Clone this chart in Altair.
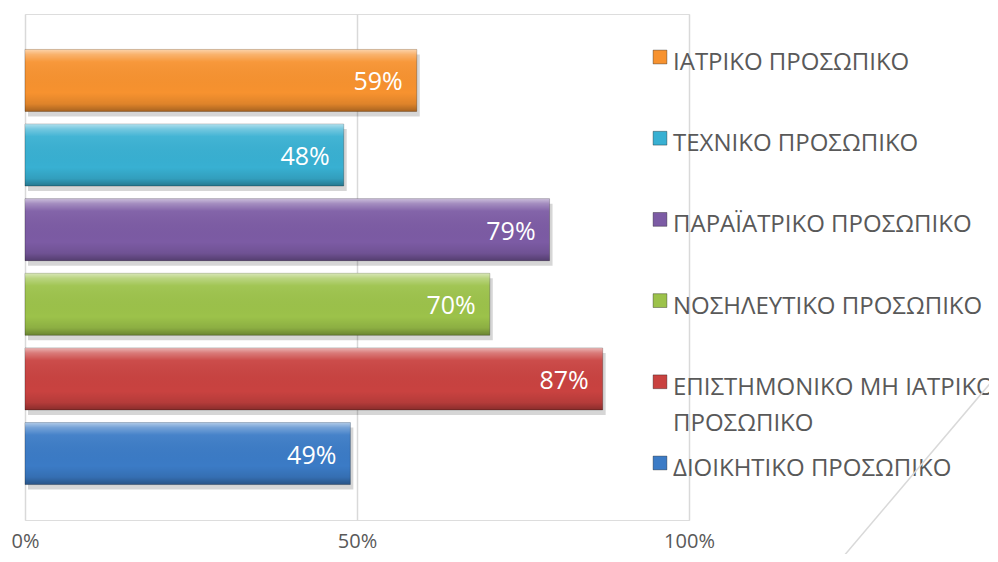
import altair as alt
import pandas as pd

categories = [
    "ΙΑΤΡΙΚΟ ΠΡΟΣΩΠΙΚΟ",
    "ΤΕΧΝΙΚΟ ΠΡΟΣΩΠΙΚΟ",
    "ΠΑΡΑΪΑΤΡΙΚΟ ΠΡΟΣΩΠΙΚΟ",
    "ΝΟΣΗΛΕΥΤΙΚΟ ΠΡΟΣΩΠΙΚΟ",
    "ΕΠΙΣΤΗΜΟΝΙΚΟ ΜΗ ΙΑΤΡΙΚΟ ΠΡΟΣΩΠΙΚΟ",
    "ΔΙΟΙΚΗΤΙΚΟ ΠΡΟΣΩΠΙΚΟ",
]
legend_labels = [
    "ΙΑΤΡΙΚΟ ΠΡΟΣΩΠΙΚΟ",
    "ΤΕΧΝΙΚΟ ΠΡΟΣΩΠΙΚΟ",
    "ΠΑΡΑΪΑΤΡΙΚΟ ΠΡΟΣΩΠΙΚΟ",
    "ΝΟΣΗΛΕΥΤΙΚΟ ΠΡΟΣΩΠΙΚΟ",
    "ΕΠΙΣΤΗΜΟΝΙΚΟ ΜΗ ΙΑΤΡΙΚΟ\nΠΡΟΣΩΠΙΚΟ",
    "ΔΙΟΙΚΗΤΙΚΟ ΠΡΟΣΩΠΙΚΟ",
]
values = [59, 48, 79, 70, 87, 49]
colors = ["#F7922F", "#38B0D2", "#7C5BA4", "#9CC24A", "#C94240", "#3B7BC6"]
x_ticks = [0, 50, 100]

FONT = "Open Sans"
GRAY = "#595959"

df = pd.DataFrame({"cat": categories, "value": values,
                   "label": [f"{v}%" for v in values]})
df_leg = pd.DataFrame({"cat": categories, "text": legend_labels})

color_scale = alt.Scale(domain=categories, range=colors)
y_bar = alt.Y("cat:N", sort=categories, axis=None,
              scale=alt.Scale(paddingInner=0.17, paddingOuter=0.475))
x_enc = alt.X(
    "value:Q",
    scale=alt.Scale(domain=[0, 100], nice=False, zero=True),
    axis=alt.Axis(values=x_ticks, labelExpr="datum.value + '%'", title=None,
                  grid=True, gridColor="#D9D9D9", gridWidth=1.5,
                  domain=False, ticks=False, tickSize=0, labelPadding=11,
                  labelFlush=False, labelOverlap=False,
                  labelFont=FONT, labelFontSize=20, labelColor=GRAY),
)

base = alt.Chart(df)

shadow = base.mark_bar(color="#000000", opacity=0.16, xOffset=3, yOffset=5).encode(
    x=x_enc, y=y_bar)

bars = base.mark_bar(stroke="#00000040", strokeWidth=1).encode(
    x=x_enc, y=y_bar,
    color=alt.Color("cat:N", scale=color_scale, legend=None))

gloss = base.mark_bar(
    fill=alt.Gradient(
        gradient="linear", x1=0, y1=0, x2=0, y2=1,
        stops=[
            alt.GradientStop(offset=0, color="rgba(255,255,255,0.6)"),
            alt.GradientStop(offset=0.08, color="rgba(255,255,255,0.3)"),
            alt.GradientStop(offset=0.2, color="rgba(255,255,255,0.06)"),
            alt.GradientStop(offset=0.7, color="rgba(0,0,0,0.0)"),
            alt.GradientStop(offset=0.88, color="rgba(0,0,0,0.1)"),
            alt.GradientStop(offset=1, color="rgba(0,0,0,0.32)"),
        ],
    )
).encode(x=x_enc, y=y_bar)

labels = base.mark_text(align="right", baseline="middle", dx=-14, dy=2,
                        color="white", fontSize=25, font=FONT).encode(
    x=x_enc, y=y_bar, text="label:N")

bar_layer = alt.layer(shadow, bars, gloss, labels)

y_leg = alt.Y("cat:N", sort=categories, axis=None,
              scale=alt.Scale(type="point", padding=0.616, align=0.43))

leg_sq = alt.Chart(df_leg).mark_square(size=190, opacity=1, stroke="#00000055",
                                       strokeWidth=1).encode(
    x=alt.value(635), y=y_leg,
    color=alt.Color("cat:N", scale=color_scale, legend=None))

leg_txt = alt.Chart(df_leg).mark_text(
    align="left", baseline="alphabetic", dy=13, fontSize=24, font=FONT,
    color=GRAY, lineBreak="\n", lineHeight=36).encode(
    x=alt.value(648), y=y_leg, text="text:N")

leg_layer = alt.layer(leg_sq, leg_txt)

diag = alt.Chart(pd.DataFrame({"a": [0]})).mark_rule(
    color="#D9D9D9", strokeWidth=1.5).encode(
    x=alt.value(818), y=alt.value(543), x2=alt.value(968), y2=alt.value(366))

chart = alt.layer(bar_layer, leg_layer, diag).resolve_scale(
    y="independent", color="shared"
).properties(
    width=664, height=506,
    autosize=alt.AutoSizeParams(type="none"),
    padding={"left": 17, "top": 6, "right": 300, "bottom": 34},
).configure_view(stroke=None).configure(background="white")

chart.save("out.html", embed_options={"renderer": "svg", "actions": False})
